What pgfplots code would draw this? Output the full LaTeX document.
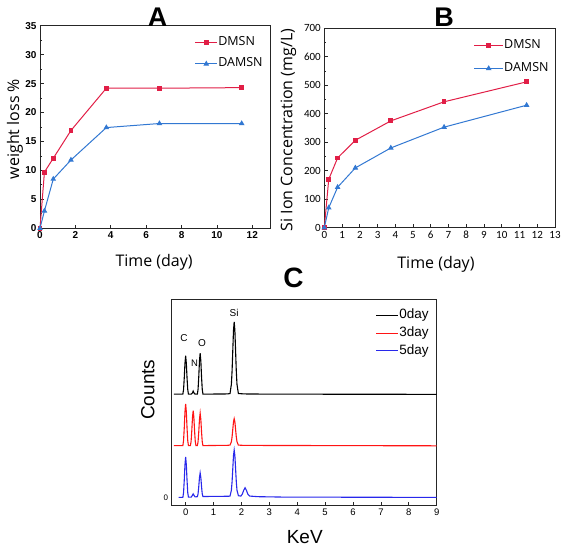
\documentclass[border=0pt]{standalone}
\usepackage{pgfplots}
\pgfplotsset{compat=1.18}
\usepackage{fontspec}
\setmainfont{Liberation Sans}
\newfontfamily\opensans{Open Sans}
\newfontfamily\carlito{Carlito}
\definecolor{cred}{RGB}{225,30,70}
\definecolor{cblue}{RGB}{50,120,210}
\definecolor{sred}{RGB}{255,20,20}
\definecolor{sblue}{RGB}{40,40,235}
\pgfplotsset{
  panel/.style={scale only axis, axis line style={line width=0.9pt, black!85},
    tick style={line width=0.8pt, black!85}, major tick length=3.5pt, minor tick length=2pt,
    xtick pos=left, ytick pos=left, tick align=inside,
    /pgf/number format/assume math mode=true,
    label style={font=\opensans\fontsize{16}{16}\selectfont}},
}
\begin{document}
\begin{tikzpicture}[x=1pt,y=1pt]
\useasboundingbox (0,0) rectangle (567,548);
% ---------------- Panel A
\begin{axis}[panel, at={(40pt,319.7pt)}, anchor=south west, width=230pt, height=202.6pt,
  xmin=0, xmax=13, ymin=0, ymax=35,
  xtick={0,2,4,6,8,10,12}, ytick={0,5,...,35}, minor ytick={2.5,7.5,...,32.5},
  ticklabel style={font=\bfseries\fontsize{10}{10}\selectfont},
  xlabel={Time (day)}, ylabel={weight loss \%},
  xlabel style={at={(axis description cs:0.496,-0.166)}, anchor=center},
  ylabel style={at={(axis description cs:-0.109,0.49)}, anchor=center},
  legend style={at={(0.971,0.951)}, anchor=north east, draw=none, fill=none,
    font=\opensans\fontsize{12.5}{12.5}\selectfont, row sep=8.6pt, inner sep=0pt,
    nodes={inner sep=0.5pt, text height=9pt, text depth=3pt}},
  legend cell align=left,
  legend image code/.code={\draw[mark repeat=2,mark phase=2,#1] plot coordinates {(0pt,0pt) (11pt,0pt) (22pt,0pt)};},
]
\addplot[cred, line width=1pt, mark=square*, mark size=1.9pt] coordinates {
 (0,0) (0.25,9.7) (0.75,12.1) (1.75,16.9) (3.75,24.2) (6.75,24.2) (11.4,24.3)};
\addlegendentry{DMSN}
\addplot[cblue, line width=1pt, mark=triangle*, mark size=2.3pt] coordinates {
 (0,0) (0.25,3.0) (0.75,8.5) (1.75,11.8) (3.75,17.4) (6.75,18.1) (11.4,18.1)};
\addlegendentry{DAMSN}
\end{axis}
\node[font=\bfseries\fontsize{27}{27}\selectfont] at (157.5,531) {A};
% ---------------- Panel B
\begin{axis}[panel, at={(324.3pt,320.3pt)}, anchor=south west, width=230.7pt, height=199.4pt,
  xmin=0, xmax=13, ymin=0, ymax=700,
  xtick={0,1,...,13}, ytick={0,100,...,700}, minor ytick={50,150,...,650},
  ticklabel style={font=\carlito\fontsize{11}{11}\selectfont},
  xlabel={Time (day)}, ylabel={Si Ion Concentration (mg/L)},
  xlabel style={at={(axis description cs:0.484,-0.182)}, anchor=center},
  ylabel style={at={(axis description cs:-0.156,0.49)}, anchor=center},
  legend style={at={(0.975,0.946)}, anchor=north east, draw=none, fill=none,
    font=\opensans\fontsize{12.5}{12.5}\selectfont, row sep=9.7pt, inner sep=0pt,
    nodes={inner sep=0.5pt, text height=9pt, text depth=3pt}},
  legend cell align=left,
  legend image code/.code={\draw[mark repeat=2,mark phase=2,#1] plot coordinates {(0pt,0pt) (14.5pt,0pt) (29pt,0pt)};},
]
\addplot[cred, line width=1pt, mark=square*, mark size=1.9pt] coordinates {
 (0,0) (0.25,170) (0.75,245) (1.75,307) (3.75,375) (6.75,442) (11.4,512)};
\addlegendentry{DMSN}
\addplot[cblue, line width=1pt, mark=triangle*, mark size=2.3pt] coordinates {
 (0,0) (0.25,70) (0.75,142) (1.75,210) (3.75,280) (6.75,353) (11.4,430)};
\addlegendentry{DAMSN}
\end{axis}
\node[font=\bfseries\fontsize{27}{27}\selectfont] at (444,531) {B};
% ---------------- Panel C
\node[font=\bfseries\fontsize{28}{28}\selectfont] at (293.5,270.5) {C};
\begin{axis}[scale only axis, at={(171.7pt,43pt)}, anchor=south west, width=265pt, height=206pt,
  axis line style={line width=0.9pt, black!85}, tick style={line width=0.7pt, black!85},
  major tick length=3pt, xtick pos=left, tick align=inside,
  xmin=-0.5, xmax=9, ymin=-7.3, ymax=198.4,
  xtick={0,1,...,9}, ytick={0}, yticklabel style={font=\fontsize{8}{8}\selectfont},
  ytick style={draw=none},
  /pgf/number format/assume math mode=true,
  xticklabel style={font=\fontsize{9.5}{9.5}\selectfont},
  xlabel={KeV}, ylabel={Counts},
  label style={font=\fontsize{19}{19}\selectfont},
  xlabel style={at={(axis description cs:0.502,-0.155)}, anchor=center},
  ylabel style={at={(axis description cs:-0.09,0.56)}, anchor=center},
  legend style={at={(0.972,0.955)}, anchor=north east, draw=none, fill=none,
    font=\fontsize{13.5}{13.5}\selectfont, row sep=3.7pt, inner sep=0pt,
    nodes={inner sep=0.5pt, text height=10pt, text depth=3pt}},
  legend cell align=left,
  legend image code/.code={\draw[#1] (0pt,0pt) -- (22pt,0pt);},
]
\addplot[black, line width=1.1pt] coordinates {
 (-0.42,103.4) (-0.1,103.4) (-0.075,108.0) (-0.05,119.5) (-0.025,134.0) (0,141.7) (0.025,134.0) (0.05,119.5) (0.075,108.0) (0.1,103.4)
 (0.2,103.4) (0.245,104.7) (0.27,106.4) (0.295,104.7) (0.34,103.4)
 (0.42,103.4) (0.445,108.3) (0.47,120.6) (0.495,136.2) (0.52,144.4) (0.545,136.2) (0.57,120.6) (0.595,108.3) (0.62,103.4)
 (1.5,103.6) (1.59,104.0) (1.64,113.3) (1.665,126.9) (1.69,147.0) (1.715,167.0) (1.74,175.6) (1.765,167.0) (1.79,147.0) (1.815,126.9) (1.84,113.3) (1.89,104.0) (2.1,103.6) (3,103.4) (9,103.2)};
\addlegendentry{0day}
\addplot[sred, line width=1.1pt] coordinates {
 (-0.42,52) (-0.1,52) (-0.075,57.0) (-0.05,69.5) (-0.025,85.4) (0,93.7) (0.025,85.4) (0.05,69.5) (0.075,57.0) (0.1,52)
 (0.17,52) (0.195,56.2) (0.22,66.7) (0.245,80.0) (0.27,87.0) (0.295,80.0) (0.32,66.7) (0.345,56.2) (0.37,52)
 (0.42,52) (0.445,55.9) (0.47,65.6) (0.495,77.9) (0.52,84.4) (0.545,77.9) (0.57,65.6) (0.595,55.9) (0.62,52)
 (1.5,52.3) (1.59,52.5) (1.64,55.9) (1.665,60.9) (1.69,68.3) (1.715,75.7) (1.74,78.9) (1.765,75.7) (1.79,68.3) (1.815,60.9) (1.84,55.9) (1.89,52.5) (2.1,52.2) (9,51.8)};
\addlegendentry{3day}
\addplot[sblue, line width=1.1pt] coordinates {
 (-0.25,0.3) (-0.1,0.3) (-0.075,5.1) (-0.05,17.3) (-0.025,32.6) (0,40.7) (0.025,32.6) (0.05,17.3) (0.075,5.1) (0.1,0.5)
 (0.2,0.5) (0.245,2.5) (0.27,3.8) (0.295,2.5) (0.34,0.8)
 (0.42,1.0) (0.445,3.8) (0.47,11.0) (0.495,20.0) (0.52,24.7) (0.545,20.0) (0.57,11.0) (0.595,3.8) (0.62,1.2)
 (1.2,1.3) (1.59,1.5) (1.64,7.5) (1.665,16.2) (1.69,29.1) (1.715,42.0) (1.74,47.5) (1.765,42.0) (1.79,29.1) (1.815,16.2) (1.84,7.5) (1.89,2.0)
 (1.98,1.6) (2.03,3.5) (2.08,7.3) (2.13,9.9) (2.18,7.3) (2.23,3.5) (2.3,1.6) (2.6,1.0) (3.5,0.6) (9,0.3)};
\addlegendentry{5day}
\node[font=\fontsize{10}{10}\selectfont] at (axis cs:1.74,184.4) {Si};
\node[font=\fontsize{10}{10}\selectfont] at (axis cs:-0.06,159.4) {C};
\node[font=\fontsize{9.5}{9.5}\selectfont] at (axis cs:0.32,134.4) {N};
\node[font=\fontsize{10}{10}\selectfont] at (axis cs:0.59,154.4) {O};
\end{axis}
\end{tikzpicture}
\end{document}
